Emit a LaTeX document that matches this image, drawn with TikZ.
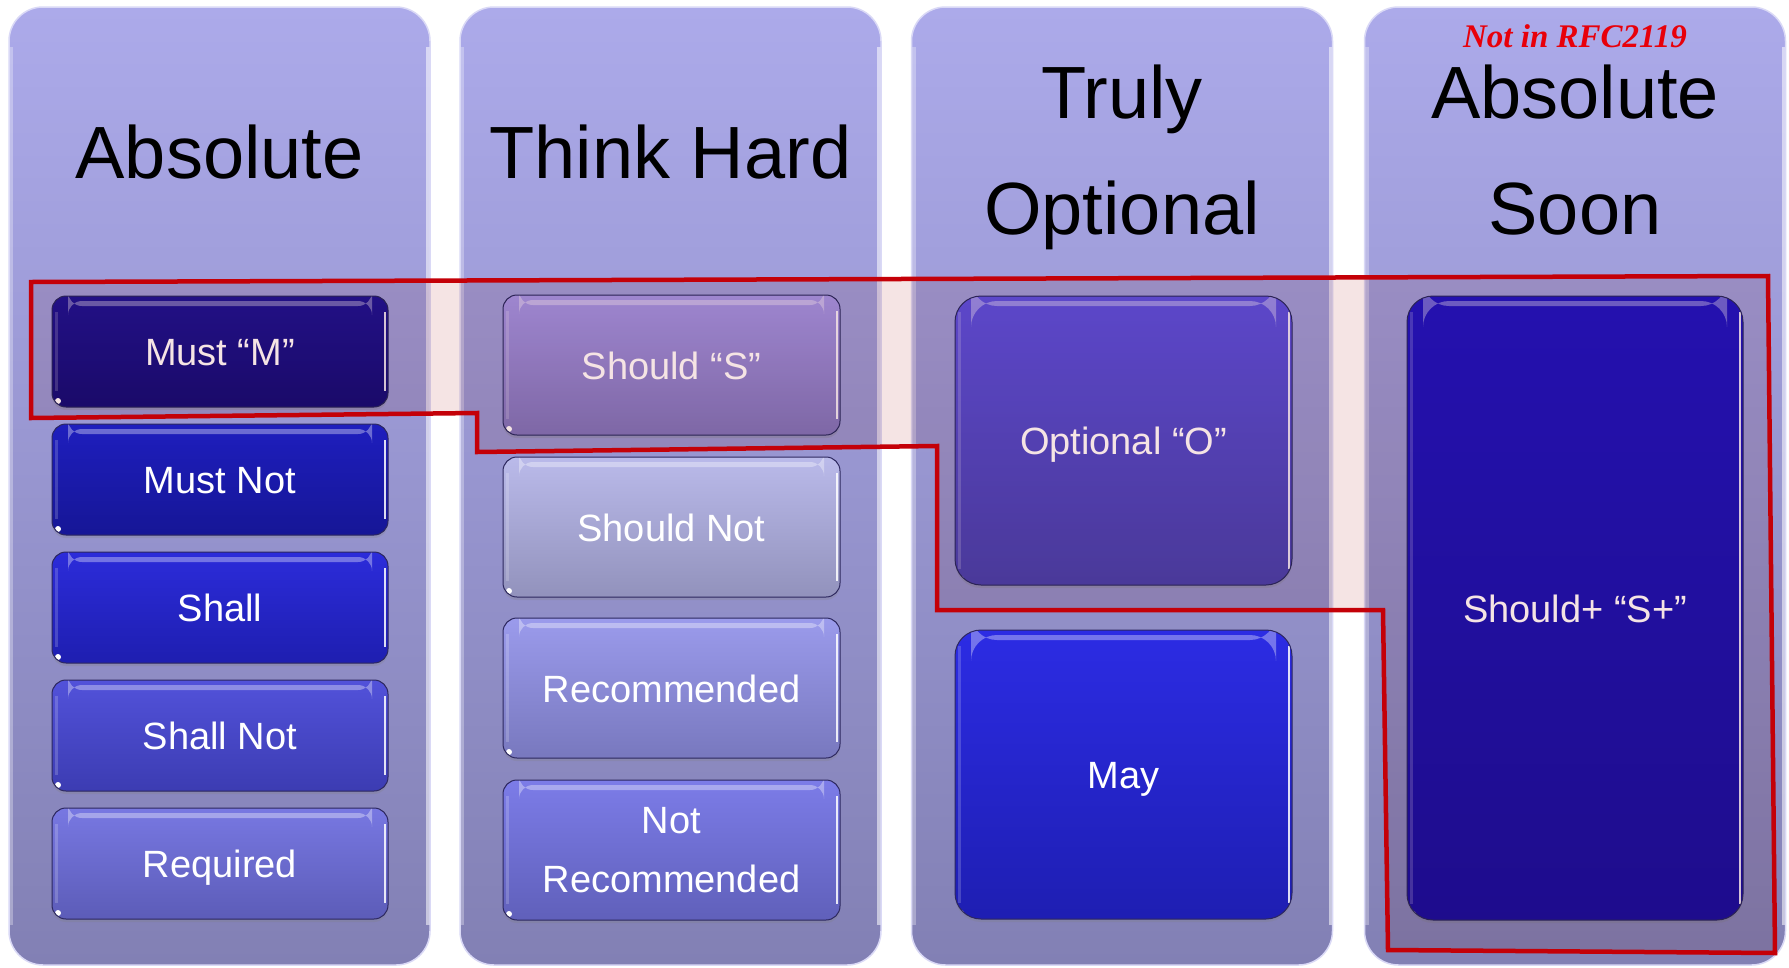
\documentclass[tikz,border=0pt]{standalone}
\usepackage{fontspec}
\setmainfont{Liberation Sans}
\newfontfamily\rfcfont{Liberation Serif}
\usetikzlibrary{shadows}
\definecolor{colT}{RGB}{172,170,234}
\definecolor{colB}{RGB}{130,128,180}
\definecolor{ovl}{RGB}{245,228,228}
\definecolor{redline}{RGB}{196,0,8}
\definecolor{rfcred}{RGB}{232,0,10}
\definecolor{boxedge}{RGB}{45,40,95}
\definecolor{mustmT}{RGB}{36,18,150}\definecolor{mustmB}{RGB}{28,12,118}
\definecolor{mustnotT}{RGB}{30,30,190}\definecolor{mustnotB}{RGB}{22,22,150}
\definecolor{shallT}{RGB}{44,44,218}\definecolor{shallB}{RGB}{30,30,176}
\definecolor{shallnotT}{RGB}{82,82,218}\definecolor{shallnotB}{RGB}{60,60,178}
\definecolor{reqT}{RGB}{120,120,226}\definecolor{reqB}{RGB}{92,92,184}
\definecolor{shouldsT}{RGB}{165,150,232}\definecolor{shouldsB}{RGB}{132,116,186}
\definecolor{shouldnotT}{RGB}{186,186,234}\definecolor{shouldnotB}{RGB}{146,146,188}
\definecolor{recT}{RGB}{155,155,236}\definecolor{recB}{RGB}{120,120,190}
\definecolor{notrecT}{RGB}{124,124,232}\definecolor{notrecB}{RGB}{96,96,186}
\definecolor{optT}{RGB}{96,80,226}\definecolor{optB}{RGB}{78,64,172}
\definecolor{mayT}{RGB}{44,44,228}\definecolor{mayB}{RGB}{30,30,178}
\definecolor{splusT}{RGB}{38,20,196}\definecolor{splusB}{RGB}{32,14,158}
\tikzset{
  colbox/.style={rounded corners=34pt, minimum width=421pt, minimum height=958pt, inner sep=0pt,
    top color=colT, bottom color=colB, draw=white!55!colT, line width=1.5pt,
    path picture={
      \draw[white,opacity=.3,line width=4pt] ([xshift=2pt,yshift=-40pt]path picture bounding box.north west) -- ([xshift=2pt,yshift=40pt]path picture bounding box.south west);
      \draw[white,opacity=.55,line width=4pt] ([xshift=-2pt,yshift=-40pt]path picture bounding box.north east) -- ([xshift=-2pt,yshift=40pt]path picture bounding box.south east);
    }},
  title/.style={anchor=base, text=black, font=\fontsize{74}{116}\selectfont, inner sep=0pt},
  gbox/.style={rounded corners=14pt, minimum width=336pt, inner sep=0pt, draw=boxedge, line width=1pt,
    text=white, font=\fontsize{38}{59}\selectfont,
    drop shadow={shadow xshift=0pt, shadow yshift=-3pt, opacity=.25},
    path picture={
      \fill[white,opacity=.35] ([xshift=16pt,yshift=-5pt]path picture bounding box.north west) rectangle ([xshift=-16pt,yshift=-10pt]path picture bounding box.north east);
      \draw[white,opacity=.85,line width=2pt] ([xshift=-3pt,yshift=-16pt]path picture bounding box.north east) -- ([xshift=-3pt,yshift=16pt]path picture bounding box.south east);
      \draw[white,opacity=.18,line width=3pt] ([xshift=4pt,yshift=-16pt]path picture bounding box.north west) -- ([xshift=4pt,yshift=16pt]path picture bounding box.south west);
      \fill[white] ([xshift=6pt,yshift=6pt]path picture bounding box.south west) circle (3pt);
    }},
  bigbox/.style={gbox, rounded corners=26pt},
  oneline/.style={text height=28pt, text depth=0pt},
  gc/.style={top color=#1T, bottom color=#1B},
}
\begin{document}
\begin{tikzpicture}[x=1pt,y=-1pt]
\useasboundingbox[fill=white] (0,0) rectangle (1789,967);
% columns
\node[colbox] (col1) at (219.5,486) {};
\node[colbox] (col2) at (670.5,486) {};
\node[colbox] (col3) at (1122,486) {};
\node[colbox] (col4) at (1575,486) {};
% titles
\node[title] (t1) at (219.5,178) {Absolute};
\node[title] (t2) at (670.5,178) {Think Hard};
\node[title] (t3a) at (1122,118) {Truly};
\node[title] (t3b) at (1122,234) {Optional};
\node[title] (t4a) at (1575,118) {Absolute};
\node[title] (t4b) at (1575,234) {Soon};
\node[anchor=base, inner sep=0pt, text=rfcred, font=\rfcfont\bfseries\itshape\fontsize{33}{36}\selectfont] (rfc) at (1575,47) {Not in RFC2119};
% column 1
\node[gbox, oneline, minimum height=111pt, gc=mustm] (mustm) at (220,351.5) {Must “M”};
\node[gbox, oneline, minimum height=111pt, gc=mustnot] (mustnot) at (220,479.5) {Must Not};
\node[gbox, oneline, minimum height=111pt, gc=shall] (shall) at (220,607.5) {Shall};
\node[gbox, oneline, minimum height=111pt, gc=shallnot] (shallnot) at (220,735.5) {Shall Not};
\node[gbox, oneline, minimum height=111pt, gc=req] (required) at (220,863.5) {Required};
% column 2
\node[gbox, oneline, minimum width=337pt, minimum height=140pt, gc=shoulds] (shoulds) at (671.5,365) {Should “S”};
\node[gbox, oneline, minimum width=337pt, minimum height=140pt, gc=shouldnot] (shouldnot) at (671.5,527) {Should Not};
\node[gbox, oneline, minimum width=337pt, minimum height=140pt, gc=rec] (recommended) at (671.5,688) {Recommended};
\node[gbox, align=center, minimum width=337pt, minimum height=140pt, gc=notrec] (notrec) at (671.5,850) {Not\\Recommended};
% column 3
\node[bigbox, oneline, minimum width=337pt, minimum height=289pt, gc=opt] (optional) at (1123.5,440.5) {Optional “O”};
\node[bigbox, oneline, minimum width=337pt, minimum height=289pt, gc=may] (may) at (1123.5,774.5) {May};
% column 4
\node[bigbox, oneline, minimum width=336pt, minimum height=624pt, gc=splus] (shouldplus) at (1575,608) {Should+ “S+”};
% highlight region
\coordinate (r1) at (31,282);
\coordinate (r2) at (1768,276);
\coordinate (r3) at (1775,953);
\coordinate (r4) at (1388,950);
\coordinate (r5) at (1383,610);
\coordinate (r6) at (937,610);
\coordinate (r7) at (937,446);
\coordinate (r8) at (477,452);
\coordinate (r9) at (477,413);
\coordinate (r10) at (31,418);
\begin{scope}[blend mode=multiply]
\fill[ovl] (r1) -- (r2) -- (r3) -- (r4) -- (r5) -- (r6) -- (r7) -- (r8) -- (r9) -- (r10) -- cycle;
\end{scope}
\draw[redline, line width=4.5pt, line join=miter] (r1) -- (r2) -- (r3) -- (r4) -- (r5) -- (r6) -- (r7) -- (r8) -- (r9) -- (r10) -- cycle;
\end{tikzpicture}
\end{document}
